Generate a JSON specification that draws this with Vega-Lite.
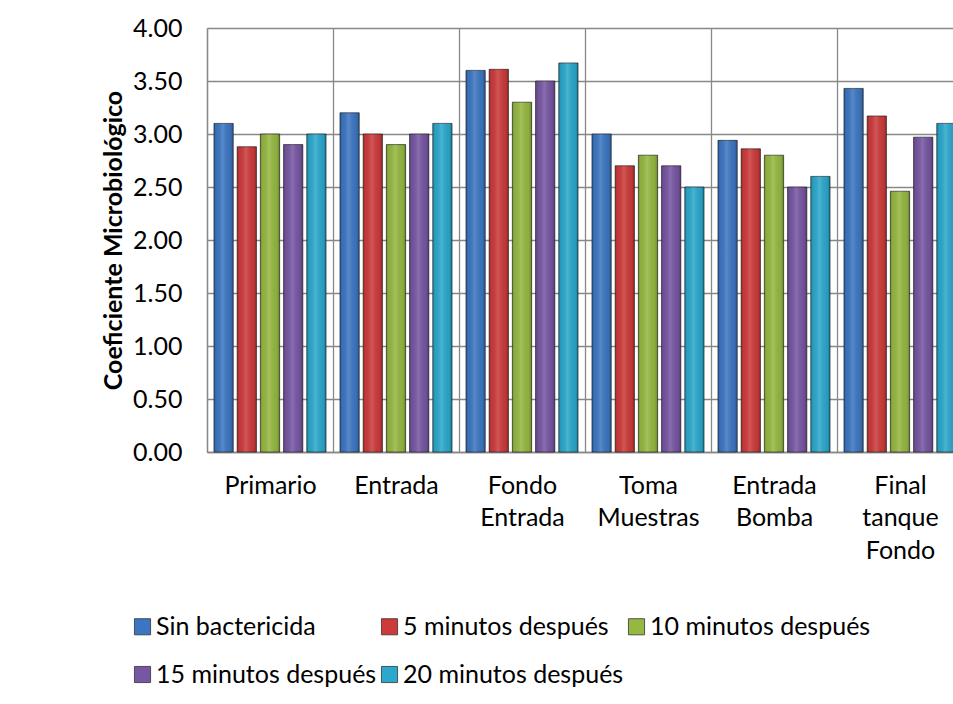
{
  "$schema": "https://vega.github.io/schema/vega-lite/v6.json",
  "width": 746,
  "height": 424,
  "autosize": {"type": "none"},
  "padding": {"left": 207, "top": 28, "right": 0, "bottom": 252},
  "background": "white",
  "config": {
    "view": {"stroke": null},
    "font": "Lato",
    "axis": {"labelFont": "Lato", "titleFont": "Lato", "labelColor": "#000000", "titleColor": "#000000"},
    "legend": {"labelFont": "Lato", "labelColor": "#000000"}
  },
  "data": {
    "values": [
      {"cat": "Primario", "serie": "Sin bactericida", "valor": 3.10},
      {"cat": "Primario", "serie": "5 minutos después", "valor": 2.88},
      {"cat": "Primario", "serie": "10 minutos después", "valor": 3.00},
      {"cat": "Primario", "serie": "15 minutos después", "valor": 2.90},
      {"cat": "Primario", "serie": "20 minutos después", "valor": 3.00},
      {"cat": "Entrada", "serie": "Sin bactericida", "valor": 3.20},
      {"cat": "Entrada", "serie": "5 minutos después", "valor": 3.00},
      {"cat": "Entrada", "serie": "10 minutos después", "valor": 2.90},
      {"cat": "Entrada", "serie": "15 minutos después", "valor": 3.00},
      {"cat": "Entrada", "serie": "20 minutos después", "valor": 3.10},
      {"cat": "Fondo Entrada", "serie": "Sin bactericida", "valor": 3.60},
      {"cat": "Fondo Entrada", "serie": "5 minutos después", "valor": 3.61},
      {"cat": "Fondo Entrada", "serie": "10 minutos después", "valor": 3.30},
      {"cat": "Fondo Entrada", "serie": "15 minutos después", "valor": 3.50},
      {"cat": "Fondo Entrada", "serie": "20 minutos después", "valor": 3.67},
      {"cat": "Toma Muestras", "serie": "Sin bactericida", "valor": 3.00},
      {"cat": "Toma Muestras", "serie": "5 minutos después", "valor": 2.70},
      {"cat": "Toma Muestras", "serie": "10 minutos después", "valor": 2.80},
      {"cat": "Toma Muestras", "serie": "15 minutos después", "valor": 2.70},
      {"cat": "Toma Muestras", "serie": "20 minutos después", "valor": 2.50},
      {"cat": "Entrada Bomba", "serie": "Sin bactericida", "valor": 2.94},
      {"cat": "Entrada Bomba", "serie": "5 minutos después", "valor": 2.86},
      {"cat": "Entrada Bomba", "serie": "10 minutos después", "valor": 2.80},
      {"cat": "Entrada Bomba", "serie": "15 minutos después", "valor": 2.50},
      {"cat": "Entrada Bomba", "serie": "20 minutos después", "valor": 2.60},
      {"cat": "Final tanque Fondo", "serie": "Sin bactericida", "valor": 3.43},
      {"cat": "Final tanque Fondo", "serie": "5 minutos después", "valor": 3.17},
      {"cat": "Final tanque Fondo", "serie": "10 minutos después", "valor": 2.46},
      {"cat": "Final tanque Fondo", "serie": "15 minutos después", "valor": 2.97},
      {"cat": "Final tanque Fondo", "serie": "20 minutos después", "valor": 3.10}
    ]
  },
  "encoding": {
    "x": {
      "field": "cat",
      "type": "nominal",
      "sort": null,
      "scale": {
        "domain": ["Primario", "Entrada", "Fondo Entrada", "Toma Muestras", "Entrada Bomba", "Final tanque Fondo"],
        "range": [0, 756],
        "paddingInner": 0,
        "paddingOuter": 0
      },
      "axis": {
        "title": null,
        "labelExpr": "split(datum.label, ' ')",
        "labelAngle": 0,
        "labelFontSize": 25,
        "labelLineHeight": 32.5,
        "labelPadding": 21,
        "labelOverlap": false,
        "labelLimit": 0,
        "ticks": false,
        "tickBand": "extent",
        "grid": true,
        "gridColor": "#888888",
        "gridWidth": 1.3,
        "domain": true,
        "domainColor": "#888888",
        "domainWidth": 1.5
      }
    },
    "xOffset": {
      "field": "serie",
      "type": "nominal",
      "sort": null,
      "scale": {
        "domain": ["Sin bactericida", "5 minutos después", "10 minutos después", "15 minutos después", "20 minutos después"],
        "paddingInner": 0.17,
        "paddingOuter": 0.3
      }
    },
    "y": {
      "field": "valor",
      "type": "quantitative",
      "scale": {"domain": [0, 4], "nice": false},
      "axis": {
        "values": [0, 0.5, 1, 1.5, 2, 2.5, 3, 3.5, 4],
        "format": ".2f",
        "title": "Coeficiente Microbiológico",
        "titleFontSize": 25,
        "titleFontWeight": "bold",
        "titlePadding": 6,
        "labelFontSize": 25,
        "labelPadding": 25,
        "ticks": false,
        "grid": true,
        "gridColor": "#888888",
        "gridWidth": 1.3,
        "domain": true,
        "domainColor": "#888888",
        "domainWidth": 1.3
      }
    }
  },
  "layer": [
    {
      "mark": {"type": "bar", "stroke": "#1a1a1a", "strokeWidth": 0.8, "strokeOpacity": 0.8},
      "encoding": {
        "color": {
          "field": "serie",
          "type": "nominal",
          "sort": null,
          "scale": {
            "domain": ["Sin bactericida", "5 minutos después", "10 minutos después", "15 minutos después", "20 minutos después"],
            "range": ["#3c76c2", "#cc3a3a", "#96b841", "#7756a3", "#2ba8cc"]
          },
          "legend": {
            "title": null,
            "orient": "none",
            "legendX": -77,
            "legendY": 586,
            "direction": "horizontal",
            "columns": 3,
            "columnPadding": 0,
            "rowPadding": 22,
            "symbolType": "square",
            "symbolSize": 260,
            "symbolStrokeColor": "#333333",
            "symbolStrokeWidth": 0.8,
            "labelFontSize": 25,
            "labelOffset": 1,
            "labelLimit": 0
          }
        }
      }
    },
    {
      "mark": {
        "type": "bar",
        "strokeWidth": 0,
        "fill": {
          "gradient": "linear",
          "x1": 0, "y1": 0, "x2": 1, "y2": 0,
          "stops": [
            {"offset": 0, "color": "rgba(0,0,0,0.22)"},
            {"offset": 0.12, "color": "rgba(0,0,0,0.05)"},
            {"offset": 0.45, "color": "rgba(255,255,255,0.14)"},
            {"offset": 0.85, "color": "rgba(0,0,0,0.06)"},
            {"offset": 1, "color": "rgba(0,0,0,0.28)"}
          ]
        }
      }
    }
  ]
}
